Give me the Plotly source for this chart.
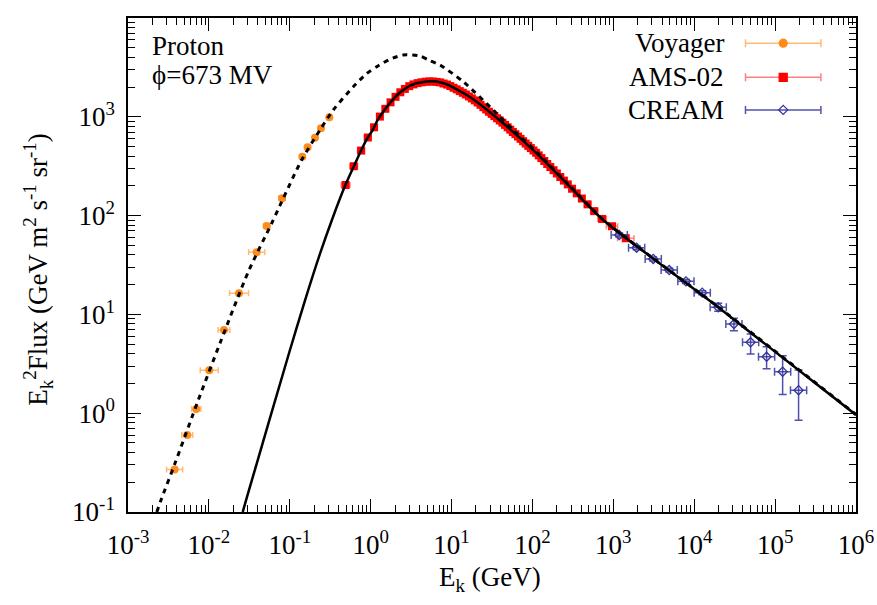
import numpy as np
import plotly.graph_objects as go

# ---------------- data ----------------
# Voyager (GeV, E^2 flux) with bin edges
voyager_ek = [0.00377, 0.0054, 0.00698, 0.0101, 0.01538, 0.02355, 0.039, 0.0518, 0.0802,
              0.143, 0.166, 0.205, 0.243, 0.308]
voyager_flux = [0.270, 0.60, 1.10, 2.72, 6.95, 16.4, 42.5, 78.5, 150, 395, 491, 615, 765, 988]
voyager_ek_lo = [0.00300, 0.00462, 0.00611, 0.00782, 0.0130, 0.0180, 0.031, 0.0474, 0.0734,
                 0.135, 0.157, 0.194, 0.230, 0.292]
voyager_ek_hi = [0.00474, 0.00631, 0.00797, 0.01305, 0.0182, 0.0309, 0.049, 0.0566, 0.0876,
                 0.151, 0.175, 0.216, 0.256, 0.325]

# AMS-02: rigidity bin edges (GV) and E^2 flux
ams_rig_edges = [1.00, 1.16, 1.33, 1.51, 1.71, 1.92, 2.15, 2.40, 2.67, 2.97, 3.29, 3.64, 4.02, 4.43,
                 4.88, 5.37, 5.90, 6.47, 7.09, 7.76, 8.48, 9.26, 10.1, 11.0, 12.0, 13.0, 14.1, 15.3,
                 16.6, 18.0, 19.5, 21.1, 22.8, 24.7, 26.7, 28.8, 31.1, 33.5, 36.1, 38.9, 41.9, 45.1,
                 48.5, 52.2, 56.1, 60.3, 64.8, 69.7, 74.9, 80.5, 86.5, 93.0, 100, 108, 116, 125,
                 135, 147, 160, 175, 192, 211, 233, 259, 291, 330, 379, 441, 525, 643, 822, 1130, 1800]
ams_flux = [204, 316, 455, 617, 783, 1005, 1205, 1400, 1592, 1770,
            1914, 2042, 2128, 2193, 2234, 2265, 2280, 2275, 2255, 2230,
            2172, 2120, 2048, 1968, 1897, 1820, 1750, 1682, 1607, 1535,
            1466, 1396, 1321, 1250, 1186, 1124, 1069, 1016, 966, 918,
            873, 828, 783, 741, 702, 667, 631, 598, 566, 536,
            508, 482, 456, 432, 407, 382, 357, 333, 310, 288,
            267, 246, 226, 207, 187, 168, 149, 130, 111, 92.5,
            78, 59]
proton_mass = 0.938272

# CREAM
cream_ek = [1183, 1941, 3113, 4910, 7890, 12560, 19800, 30970, 49800, 78500, 123900, 195000]
cream_flux = [63.6, 47.3, 36.4, 28.1, 21.6, 16.6, 11.8, 8.0, 5.22, 3.73, 2.63, 1.71]
cream_ek_lo = [940, 1542, 2473, 3900, 6267, 9977, 15728, 24600, 39560, 62350, 98420, 154900]
cream_ek_hi = [1489, 2444, 3919, 6181, 9933, 15812, 24927, 38990, 62690, 98830, 156000, 245500]
cream_err_up = [3.0, 2.2, 1.7, 1.3, 1.0, 0.8, 1.15, 1.14, 1.11, 0.98, 1.18, 1.02]
cream_err_dn = [3.0, 2.2, 1.7, 1.3, 1.0, 0.8, 1.05, 1.16, 1.25, 0.91, 1.08, 0.86]

# Modulated model (solid) and LIS (dotted)
model_ek = [0.0262, 0.0293, 0.1005, 0.154, 0.236, 0.337, 0.481, 0.622, 0.759, 0.893, 1.077, 1.22,
            1.43, 1.65, 1.90, 2.19, 2.53, 3.06, 3.71, 4.69, 5.67, 7.19, 9.10, 11.56, 15.4, 20.4,
            43.6, 112.7, 291, 750, 19800, 1e6]
model_flux = [0.1, 0.138, 4.36, 13.8, 40.9, 93.5, 199, 318, 454, 592, 752, 929,
              1127, 1316, 1504, 1702, 1867, 2065, 2183, 2265, 2287, 2235, 2098, 1897, 1662, 1422,
              859, 427, 196, 90.2, 11.8, 0.96]
lis_ek = [0.00227, 0.00261, 0.00381, 0.0074, 0.01371, 0.0307, 0.0597, 0.140, 0.236, 0.345,
          0.610, 0.893, 1.186, 1.73, 2.53, 4.07, 5.41, 7.19, 13.96, 32.7, 57.9, 112.7, 291,
          750, 19800, 1e6]
lis_flux = [0.1, 0.138, 0.311, 1.36, 5.10, 27.0, 83.6, 365, 735, 1172,
            2017, 2742, 3214, 3819, 4224, 4124, 3698, 3342, 2265, 1172, 735, 440, 199,
            91, 11.9, 0.97]

x_tickvals = [1e-3, 1e-2, 1e-1, 1e0, 1e1, 1e2, 1e3, 1e4, 1e5, 1e6]
x_ticktext = ["10<sup>-3</sup>", "10<sup>-2</sup>", "10<sup>-1</sup>", "10<sup>0</sup>",
              "10<sup>1</sup>", "10<sup>2</sup>", "10<sup>3</sup>", "10<sup>4</sup>",
              "10<sup>5</sup>", "10<sup>6</sup>"]
y_tickvals = [1e-1, 1e0, 1e1, 1e2, 1e3, 1e4]
y_ticktext = ["10<sup>-1</sup>", "10<sup>0</sup>", "10<sup>1</sup>", "10<sup>2</sup>",
              "10<sup>3</sup>", "10<sup>4</sup>"]

# ---------------- derived ----------------
R = np.array(ams_rig_edges)
E_edges = np.sqrt(R**2 + proton_mass**2) - proton_mass
R_mid = np.sqrt(R[:-1] * R[1:])
ams_ek = np.sqrt(R_mid**2 + proton_mass**2) - proton_mass
ams_xplus = E_edges[1:] - ams_ek
ams_xminus = ams_ek - E_edges[:-1]

v_ek = np.array(voyager_ek)
c_ek = np.array(cream_ek)

FONT = "'Liberation Serif', 'Times New Roman', Times, serif"
FS = 27
ORANGE = "#FF8C1A"
RED = "#FF0000"
BLUE = "#33339C"

fig = go.Figure()

fig.add_trace(go.Scatter(
    x=voyager_ek, y=voyager_flux, mode="markers",
    marker=dict(symbol="circle", size=8, color=ORANGE),
    error_x=dict(type="data", symmetric=False,
                 array=list(np.array(voyager_ek_hi) - v_ek),
                 arrayminus=list(v_ek - np.array(voyager_ek_lo)),
                 color="rgba(255,140,26,0.6)", thickness=1.5, width=3),
))
fig.add_trace(go.Scatter(
    x=ams_ek, y=ams_flux, mode="markers",
    marker=dict(symbol="square", size=8, color=RED),
    error_x=dict(type="data", symmetric=False, array=list(ams_xplus), arrayminus=list(ams_xminus),
                 color="rgba(255,0,0,0.5)", thickness=1.5, width=3),
))
fig.add_trace(go.Scatter(
    x=cream_ek, y=cream_flux, mode="markers",
    marker=dict(symbol="diamond-open", size=7, color=BLUE, line=dict(width=1.3, color=BLUE)),
    error_x=dict(type="data", symmetric=False,
                 array=list(np.array(cream_ek_hi) - c_ek),
                 arrayminus=list(c_ek - np.array(cream_ek_lo)),
                 color="rgba(51,51,156,0.85)", thickness=1.5, width=4),
    error_y=dict(type="data", symmetric=False, array=cream_err_up, arrayminus=cream_err_dn,
                 color="rgba(51,51,156,0.85)", thickness=1.5, width=4),
))
fig.add_trace(go.Scatter(
    x=lis_ek, y=lis_flux, mode="lines",
    line=dict(color="black", width=3, dash="5px,5px", shape="spline", smoothing=0.7),
))
fig.add_trace(go.Scatter(
    x=model_ek, y=model_flux, mode="lines",
    line=dict(color="black", width=2.5, shape="spline", smoothing=0.7),
))

# ---------------- legend (custom, drawn on an overlay axis in plot fractions) ----------------
legend_names = ["Voyager", "AMS-02", "CREAM"]
legend_rows = [0.949, 0.880, 0.814]
legend_styles = [
    dict(symbol="circle", size=8, color=ORANGE, bar="rgba(255,140,26,0.6)"),
    dict(symbol="square", size=8, color=RED, bar="rgba(255,0,0,0.5)"),
    dict(symbol="diamond-open", size=7, color=BLUE, bar="rgba(51,51,156,0.85)"),
]
for name, yy, st in zip(legend_names, legend_rows, legend_styles):
    fig.add_trace(go.Scatter(
        x=[0.900], y=[yy], mode="markers", xaxis="x2", yaxis="y2",
        marker=dict(symbol=st["symbol"], size=st["size"], color=st["color"],
                    line=dict(width=1.3, color=st["color"])),
        error_x=dict(type="constant", value=0.0518, color=st["bar"], thickness=1.5, width=4),
        hoverinfo="skip",
    ))
    fig.add_annotation(x=0.822, y=yy, xref="x2", yref="y2", text=name, showarrow=False,
                       xanchor="right", yanchor="middle",
                       font=dict(family=FONT, size=FS, color="black"))

fig.add_annotation(x=0.030, y=0.944, xref="x2", yref="y2", text="Proton", showarrow=False,
                   xanchor="left", yanchor="middle", font=dict(family=FONT, size=FS, color="black"))
fig.add_annotation(x=0.030, y=0.885, xref="x2", yref="y2", text="\u03d5=673 MV", showarrow=False,
                   xanchor="left", yanchor="middle", font=dict(family=FONT, size=FS, color="black"))

# axis titles placed as annotations
fig.add_annotation(x=-0.124, y=0.49, xref="paper", yref="paper", textangle=-90,
                   text="E<sub>k</sub><sup>2</sup>Flux (GeV m<sup>2</sup> s<sup>-1</sup> sr<sup>-1</sup>)",
                   showarrow=False, xanchor="center", yanchor="middle",
                   font=dict(family=FONT, size=FS, color="black"))
fig.add_annotation(x=0.497, y=-0.135, xref="paper", yref="paper",
                   text="E<sub>k</sub> (GeV)", showarrow=False, xanchor="center", yanchor="middle",
                   font=dict(family=FONT, size=FS, color="black"))

axis_common = dict(
    type="log", showgrid=False, zeroline=False, showline=True, linecolor="black", linewidth=1.5,
    mirror="allticks", ticks="inside", ticklen=13, tickwidth=1.2, tickcolor="black",
    tickfont=dict(family=FONT, size=FS, color="black"), tickmode="array",
)

x_minor = [m * 10.0**k for k in range(-3, 6) for m in range(2, 10)]
y_minor = [m * 10.0**k for k in range(-1, 4) for m in range(2, 10)]

fig.update_layout(
    width=877, height=605,
    margin=dict(l=128, r=21, t=18, b=93, autoexpand=False),
    paper_bgcolor="white", plot_bgcolor="white",
    showlegend=False,
    font=dict(family=FONT, size=FS, color="black"),
    xaxis=dict(**axis_common, range=[-3, 6], tickvals=x_tickvals, ticktext=x_ticktext,
               ticklabelstandoff=8,
               minor=dict(tickmode="array", tickvals=x_minor, ticks="inside", ticklen=7,
                          tickwidth=1, tickcolor="black")),
    yaxis=dict(**axis_common, range=[-1, 4], tickvals=y_tickvals, ticktext=y_ticktext,
               ticklabelstandoff=6,
               minor=dict(tickmode="array", tickvals=y_minor, ticks="inside", ticklen=7,
                          tickwidth=1, tickcolor="black")),
    xaxis2=dict(overlaying="x", range=[0, 1], visible=False, fixedrange=True),
    yaxis2=dict(overlaying="y", range=[0, 1], visible=False, fixedrange=True),
)

fig.write_html("out.html")
